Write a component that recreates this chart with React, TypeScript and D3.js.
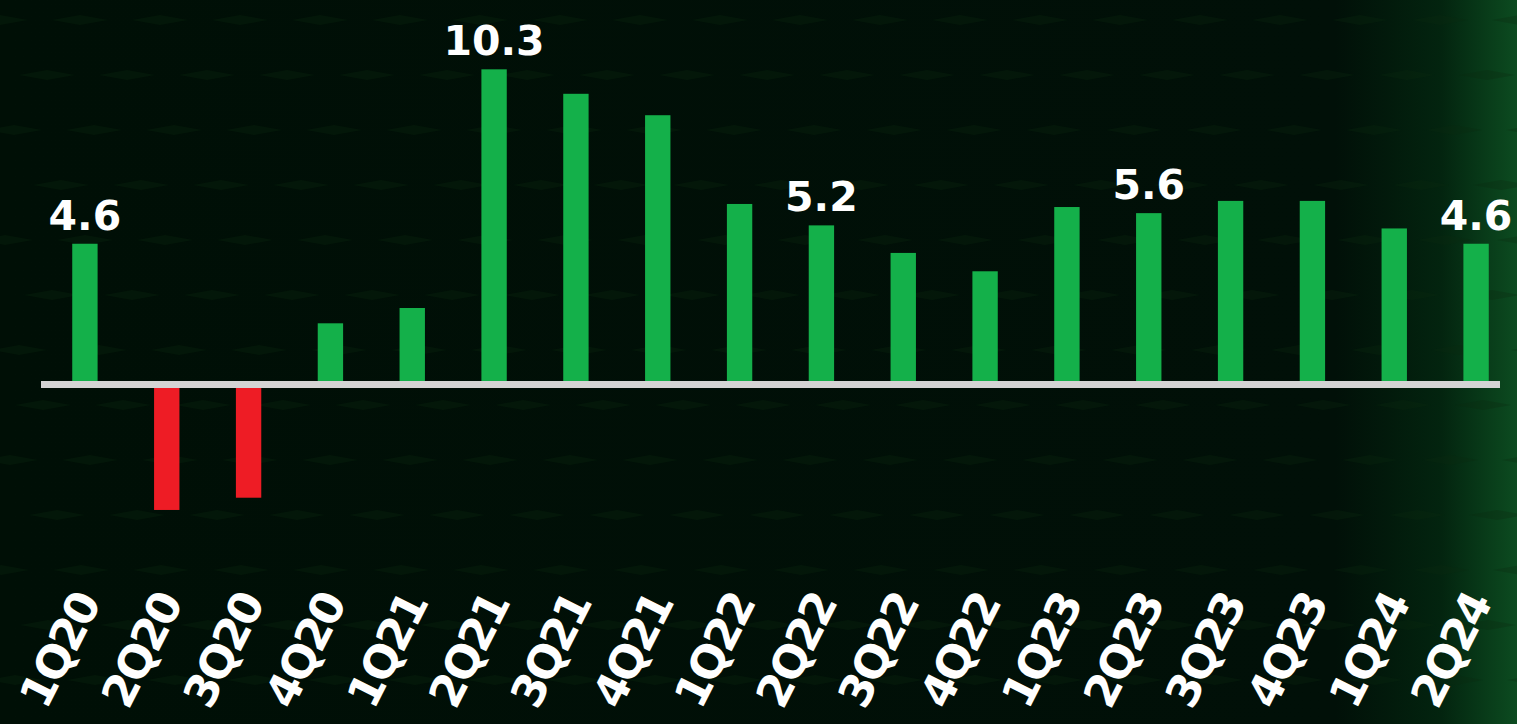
import * as d3 from "d3";
import React from "react";

const quarters = [
  "1Q20", "2Q20", "3Q20", "4Q20",
  "1Q21", "2Q21", "3Q21", "4Q21",
  "1Q22", "2Q22", "3Q22", "4Q22",
  "1Q23", "2Q23", "3Q23", "4Q23",
  "1Q24", "2Q24",
];

const growth = [
  4.6, -4.1, -3.7, 2.0,
  2.5, 10.3, 9.5, 8.8,
  5.9, 5.2, 4.3, 3.7,
  5.8, 5.6, 6.0, 6.0,
  5.1, 4.6,
];

// only some bars carry a value label
const labeled = ["1Q20", "2Q21", "2Q22", "2Q23", "2Q24"];

const W = 1517;
const H = 724;
const FONT = "'DejaVu Sans', sans-serif";

const App: React.FC = () => {
  const x = d3.scaleBand<string>()
    .domain(quarters)
    .range([44, 1517])
    .paddingInner(0.69)
    .paddingOuter(0.345);

  const y = d3.scaleLinear().domain([-4.5, 10.5]).range([522.2, 63.2]);
  const y0 = y(0);
  const bw = x.bandwidth();

  const data = quarters.map((q, i) => ({ q, v: growth[i] }));

  // faint diamond texture like the slide background
  const diamonds: { cx: number; cy: number }[] = [];
  for (let r = 0; r < 14; r++) {
    for (let c = 0; c < 20; c++) {
      diamonds.push({ cx: c * 80 + (r % 2) * 40 + (r * 7) % 23, cy: r * 55 + 20 });
    }
  }

  return (
    <svg
      width={W}
      height={H}
      style={{ position: "absolute", left: 0, top: 0, display: "block" }}
    >
      <defs>
        <linearGradient id="bg" x1="0" y1="0" x2="1" y2="0">
          <stop offset="0" stopColor="#000f06" />
          <stop offset="0.88" stopColor="#011008" />
          <stop offset="0.95" stopColor="#03240f" />
          <stop offset="1" stopColor="#0c4b20" />
        </linearGradient>
      </defs>
      <rect width={W} height={H} fill="url(#bg)" />
      <g fill="#0b2a10" opacity={0.3}>
        {diamonds.map((d, i) => (
          <path
            key={i}
            d={`M${d.cx - 28},${d.cy} L${d.cx},${d.cy - 5} L${d.cx + 28},${d.cy} L${d.cx},${d.cy + 5} Z`}
          />
        ))}
      </g>

      {data.map((d) => (
        <rect
          key={d.q}
          x={x(d.q)}
          y={Math.min(y(d.v), y0)}
          width={bw}
          height={Math.abs(y(d.v) - y0)}
          fill={d.v >= 0 ? "#14b04a" : "#ee1c25"}
        />
      ))}

      <rect x={41} y={y0 - 3.5} width={1459} height={7} fill="#d4d4d4" />

      {data
        .filter((d) => labeled.includes(d.q))
        .map((d) => (
          <text
            key={"l" + d.q}
            x={(x(d.q) || 0) + bw / 2}
            y={y(d.v) - 14}
            textAnchor="middle"
            fill="#ffffff"
            fontFamily={FONT}
            fontWeight="bold"
            fontSize={41}
          >
            {d.v.toFixed(1)}
          </text>
        ))}

      {quarters.map((q) => {
        const cx = (x(q) || 0) + bw / 2 + 16;
        return (
          <text
            key={"t" + q}
            transform={`translate(${cx},604) rotate(-63)`}
            textAnchor="end"
            fill="#ffffff"
            fontFamily={FONT}
            fontWeight="bold"
            fontSize={45}
            letterSpacing={-3}
          >
            {q}
          </text>
        );
      })}
    </svg>
  );
};

export default App;
